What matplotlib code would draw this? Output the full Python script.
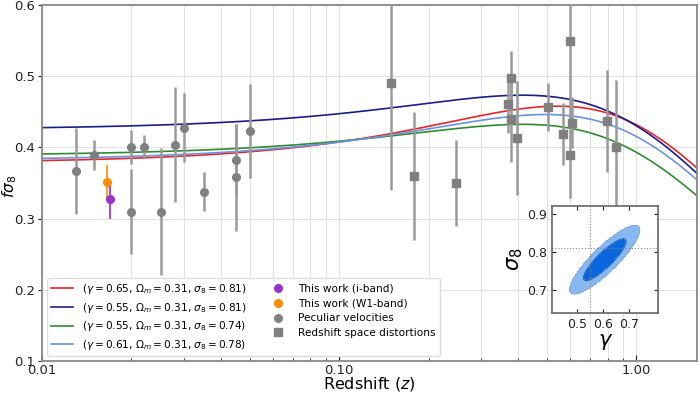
import numpy as np
import matplotlib
matplotlib.use("Agg")
import matplotlib.pyplot as plt
from matplotlib.lines import Line2D
from matplotlib.ticker import FixedLocator, FormatStrFormatter, NullFormatter, LogLocator

# ---- model curves (growth-index parametrisation) ----
model_gamma = [0.65, 0.55, 0.55, 0.61]
model_om = [0.31, 0.31, 0.31, 0.31]
model_s8 = [0.81, 0.81, 0.74, 0.78]
model_colors = ["#e8262a", "#1c1c8a", "#2e8b2e", "#6a92e0"]

# ---- this work ----
iband_z = [0.01697]
iband_v = [0.327]
iband_e = [0.027]
w1_z = [0.01650]
w1_v = [0.352]
w1_e = [0.024]

# ---- peculiar velocities ----
pv_z = [0.0130, 0.0150, 0.0200, 0.0200, 0.0220, 0.0251, 0.0281, 0.0301, 0.0350, 0.0451, 0.0451, 0.0501]
pv_v = [0.367, 0.390, 0.401, 0.310, 0.401, 0.310, 0.404, 0.428, 0.338, 0.383, 0.358, 0.423]
pv_e = [0.060, 0.021, 0.024, 0.060, 0.016, 0.089, 0.081, 0.048, 0.027, 0.050, 0.075, 0.066]

# ---- redshift space distortions ----
rsd_z = [0.150, 0.179, 0.248, 0.369, 0.380, 0.380, 0.398, 0.506, 0.567, 0.597, 0.597, 0.607, 0.799, 0.857]
rsd_v = [0.490, 0.360, 0.350, 0.461, 0.497, 0.440, 0.413, 0.457, 0.419, 0.549, 0.389, 0.435, 0.437, 0.400]
rsd_e = [0.150, 0.090, 0.060, 0.040, 0.038, 0.060, 0.080, 0.034, 0.044, 0.110, 0.060, 0.036, 0.072, 0.095]

# ---- inset posterior (gaussian summary) ----
post_mean = [0.606, 0.780]
post_std = [0.054, 0.0365]
post_rho = 0.87
ref_gamma = 0.55
ref_s8 = 0.81


def fsigma8(z, gamma, om, s8):
    a_grid = np.linspace(1e-3, 1.0, 20000)
    om_a = om * a_grid**-3 / (om * a_grid**-3 + 1 - om)
    f_a = om_a**gamma
    integrand = f_a / a_grid
    cum = np.concatenate([[0], np.cumsum(0.5 * (integrand[1:] + integrand[:-1]) * np.diff(a_grid))])
    lnD = cum - cum[-1]  # ln D(a)/D(1)
    a = 1.0 / (1.0 + z)
    lnD_z = np.interp(a, a_grid, lnD)
    om_z = om * a**-3 / (om * a**-3 + 1 - om)
    return om_z**gamma * s8 * np.exp(lnD_z)


fig = plt.figure(figsize=(7.0, 3.95), dpi=100)
ax = fig.add_axes([0.06, 0.086, 0.9357, 0.901])

zz = np.logspace(np.log10(0.01), np.log10(1.6), 400)
line_handles = []
for g, om, s8, c in zip(model_gamma, model_om, model_s8, model_colors):
    h, = ax.plot(zz, fsigma8(zz, g, om, s8), color=c, lw=1.2,
                 label=rf"($\gamma = {g:.2f}$, $\Omega_m = {om:.2f}$, $\sigma_8 = {s8:.2f}$)")
    line_handles.append(h)

ecol = "#9a9a9a"
ax.errorbar(pv_z, pv_v, yerr=pv_e, fmt="o", color="#808080", ecolor=ecol,
            elinewidth=1.8, ms=5.5, zorder=3)
ax.errorbar(rsd_z, rsd_v, yerr=rsd_e, fmt="s", color="#808080", ecolor=ecol,
            elinewidth=1.8, ms=5.5, zorder=3)
ax.errorbar(w1_z, w1_v, yerr=w1_e, fmt="o", color="#ff8c00", ecolor="#ffa030",
            elinewidth=1.5, ms=5.5, zorder=4)
ax.errorbar(iband_z, iband_v, yerr=iband_e, fmt="o", color="#9932cc", ecolor="#a550d8",
            elinewidth=1.5, ms=5.5, zorder=4)

marker_handles = [
    Line2D([], [], ls="none", marker="o", color="#9932cc", ms=5.5, label="This work (i-band)"),
    Line2D([], [], ls="none", marker="o", color="#ff8c00", ms=5.5, label="This work (W1-band)"),
    Line2D([], [], ls="none", marker="o", color="#808080", ms=5.5, label="Peculiar velocities"),
    Line2D([], [], ls="none", marker="s", color="#808080", ms=5.5, label="Redshift space distortions"),
]

ax.set_xscale("log")
ax.set_xlim(0.01, 1.6)
ax.set_ylim(0.1, 0.6)
ax.set_yticks([0.1, 0.2, 0.3, 0.4, 0.5, 0.6])
ax.yaxis.set_major_formatter(FormatStrFormatter("%.1f"))
ax.xaxis.set_major_locator(FixedLocator([0.01, 0.1, 1.0]))
ax.xaxis.set_major_formatter(FormatStrFormatter("%.2f"))
ax.xaxis.set_minor_locator(LogLocator(base=10, subs=np.arange(2, 10)))
ax.xaxis.set_minor_formatter(NullFormatter())
ax.grid(True, which="both", color="#e2e2e2", lw=0.8)
ax.set_axisbelow(True)
ax.tick_params(axis="both", which="both", labelsize=9.5, colors="#222222")
ax.tick_params(axis="x", which="both", direction="in")
ax.tick_params(axis="x", which="major", length=4, pad=2)
ax.tick_params(axis="x", which="minor", length=2.5)
ax.tick_params(axis="y", direction="out", length=3, pad=2)
for s in ax.spines.values():
    s.set_color("#888888")
    s.set_linewidth(1.3)
ax.set_xlabel(r"Redshift ($z$)", fontsize=11.5, labelpad=-1)
ax.set_ylabel(r"$f\sigma_8$", fontsize=11)
ax.yaxis.set_label_coords(-0.035, 0.49)

leg = ax.legend(handles=line_handles + marker_handles, loc="lower left", ncol=2,
                fontsize=7.6, labelspacing=0.45, handlelength=2.1, columnspacing=2.0,
                borderaxespad=0.45, framealpha=1.0, edgecolor="#dddddd")

# ---- inset ----
ins = fig.add_axes([0.789, 0.2076, 0.151, 0.271])
gg = np.linspace(0.405, 0.81, 300)
ss = np.linspace(0.639, 0.922, 300)
G, S = np.meshgrid(gg, ss)
dx = (G - post_mean[0]) / post_std[0]
dy = (S - post_mean[1]) / post_std[1]
chi2 = (dx**2 - 2 * post_rho * dx * dy + dy**2) / (1 - post_rho**2)
ins.contourf(G, S, chi2, levels=[0, 2.30, 6.18], colors=["#0a66dc", "#88b8ef"])
ins.contour(G, S, chi2, levels=[2.30, 6.18], colors=["#0858c0", "#78aae8"], linewidths=0.6)
ins.axvline(ref_gamma, color="#888888", ls=":", lw=0.8)
ins.axhline(ref_s8, color="#888888", ls=":", lw=0.8)
ins.set_xlim(0.405, 0.81)
ins.set_ylim(0.639, 0.922)
ins.set_xticks([0.5, 0.6, 0.7])
ins.set_yticks([0.7, 0.8, 0.9])
ins.xaxis.set_major_formatter(FormatStrFormatter("%.1f"))
ins.yaxis.set_major_formatter(FormatStrFormatter("%.1f"))
ins.tick_params(direction="in", top=True, right=True, labelsize=9, length=3, colors="#222222")
for s in ins.spines.values():
    s.set_color("#666666")
    s.set_linewidth(1.2)
ins.set_xlabel(r"$\gamma$", fontsize=15, labelpad=1)
ins.set_ylabel(r"$\sigma_8$", fontsize=15, labelpad=2)

fig.savefig("out.png", dpi=100)
